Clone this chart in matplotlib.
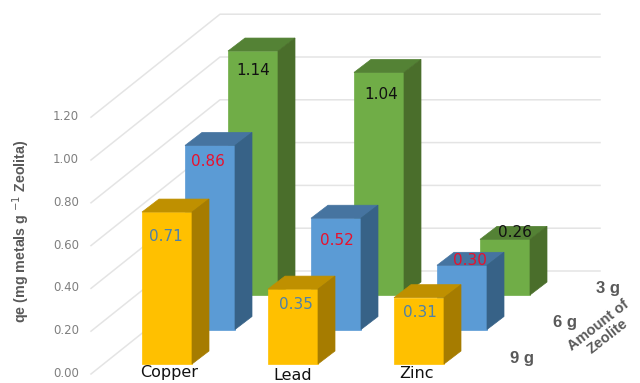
import matplotlib
matplotlib.use('Agg')
from matplotlib import pyplot as plt
from matplotlib.patches import Polygon

plt.rcParams['font.family'] = ['Liberation Sans', 'DejaVu Sans']

metals = ['Copper', 'Lead', 'Zinc']
amounts = ['9 g', '6 g', '3 g']
qe_9g = [0.71, 0.35, 0.31]
qe_6g = [0.86, 0.52, 0.30]
qe_3g = [1.14, 1.04, 0.26]
ticks = [0.0, 0.2, 0.4, 0.6, 0.8, 1.0, 1.2]

# front, top, side
colores = [('#FFC000', '#BF9000', '#A67C00'),
           ('#5B9BD5', '#4674A0', '#376287'),
           ('#70AD47', '#548235', '#4A6E2B')]
cor_rotulo = ['#4F81A8', '#E8112D', '#111111']

# oblique projection of the 3d box, in pixels
X0, Y0 = 142, 364
PASSO_COL = 126
PASSO_FILA = (43, -34.5)
ESCALA = 214
LARGURA = 50
PROF = (17, -13)


def proj(col, fila, valor=0.0):
    x = X0 + PASSO_COL * col + PASSO_FILA[0] * fila
    y = Y0 + PASSO_FILA[1] * fila - ESCALA * valor
    return x, y


def barra(ax, col, fila, valor, cores, z):
    x, y = proj(col, fila)
    topo = y - ESCALA * valor
    dx, dy = PROF
    ax.add_patch(Polygon([(x, y), (x + LARGURA, y), (x + LARGURA, topo), (x, topo)],
                         fc=cores[0], ec=cores[0], lw=0.5, zorder=z))
    ax.add_patch(Polygon([(x, topo), (x + LARGURA, topo), (x + LARGURA + dx, topo + dy), (x + dx, topo + dy)],
                         fc=cores[1], ec=cores[1], lw=0.5, zorder=z))
    ax.add_patch(Polygon([(x + LARGURA, y), (x + LARGURA + dx, y + dy), (x + LARGURA + dx, topo + dy), (x + LARGURA, topo)],
                         fc=cores[2], ec=cores[2], lw=0.5, zorder=z))


fig = plt.figure(figsize=(6.4, 3.83), dpi=100)
ax = fig.add_axes([0, 0, 1, 1])
ax.set_xlim(0, 640)
ax.set_ylim(383, 0)
ax.axis('off')

# walls
for t in ticks:
    y_frente = 374 - ESCALA * t
    y_fundo = 271 - ESCALA * t
    ax.plot([91, 220, 600], [y_frente, y_fundo, y_fundo], color='#E4E4E4', lw=1.1, zorder=1)
    ax.text(79, y_frente - 0.5, f'{t:.2f}', color='#7F7F7F', fontsize=8.5, ha='right', va='center',
            family=['DejaVu Sans'])

# back row first so the front ones cover it
desloc = [[24, 15, 15], [16, 22, -5], [19, 22, -7]]
desloc_x = [[-1, 3, 1], [-2, 1, 8], [0, 2, 10]]
z = 2
for fila, serie in reversed(list(enumerate([qe_9g, qe_6g, qe_3g]))):
    for col, v in enumerate(serie):
        barra(ax, col, fila, v, colores[fila], z)
        x, y = proj(col, fila, v)
        ax.text(x + LARGURA / 2 + desloc_x[fila][col], y + desloc[fila][col], f'{v:.2f}',
                color=cor_rotulo[fila], fontsize=11, ha='center', va='center',
                family=['DejaVu Sans'], zorder=z + 1)
        z += 2

# category and depth labels
pos_metal = [(169, 373), (293, 376), (416, 374)]
for nome, (x, y) in zip(metals, pos_metal):
    ax.text(x, y, nome, color='#111111', fontsize=11.5, ha='center', va='center',
            family=['DejaVu Sans'], zorder=50)

pos_fila = [(522, 358), (565, 323), (608, 289)]
for nome, (x, y) in zip(amounts, pos_fila):
    ax.text(x, y, nome, color='#595959', fontsize=12, fontweight='bold', ha='center', va='center', zorder=50)

ax.text(603, 331, 'Amount of\nZeolite', color='#595959', fontsize=10.5, fontweight='bold',
        rotation=38, ha='center', va='center', linespacing=1.0, rotation_mode='anchor', zorder=50)

ax.text(21, 231, 'qe (mg metals g $^{-1}$ Zeolita)', color='#595959', fontsize=10.3, fontweight='bold',
        rotation=90, ha='center', va='center', zorder=50)

plt.savefig('out.png', dpi=100)
plt.close()
